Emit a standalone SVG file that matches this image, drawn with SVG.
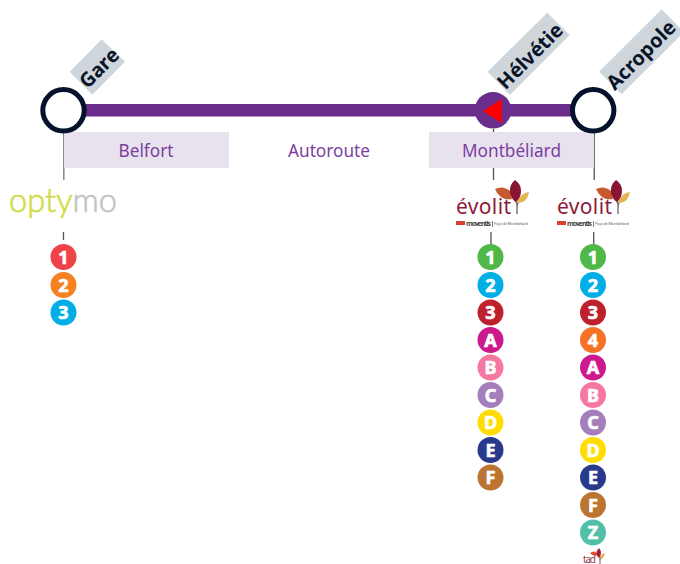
<svg xmlns="http://www.w3.org/2000/svg" width="680" height="564" viewBox="0 0 680 564">
<style>
.tag{fill:#cfd6db}
.st{font:bold 20px "Noto Sans","Open Sans",sans-serif;fill:#0a1428;text-anchor:middle}
.ring{fill:#fff;stroke:#04132b;stroke-width:5}
.band{fill:#e8e2ef}
.zone{font:17.2px "Noto Sans","Open Sans",sans-serif;fill:#7b3f9e;text-anchor:middle}
.tick{stroke:#555;stroke-width:1.3;fill:none}
.b{font:bold 18px "Noto Sans","Open Sans",sans-serif;fill:#fff;text-anchor:middle;stroke:#fff;stroke-width:.7}
.evo{font:21px "Noto Sans","Open Sans",sans-serif;fill:#8f1b3a}
.mov{font:bold 7px "Noto Sans",sans-serif;fill:#444}
.pays{font:4px "Noto Sans",sans-serif;fill:#666}
</style>
<defs>
<g id="evolity">
<text class="evo" x="0" y="34" textLength="55">évolit</text>
<path d="M61 34V24M72 15Q62 18 61 26M42 10Q55 8 61 24" fill="none" stroke="#666" stroke-width="1.300"/>
<path d="M39 9Q47 5 54 11L56 19Q44 21 39 9Z" fill="#c65a2e"/>
<path d="M59 0Q53 5 54 13Q56 20 60 22Q65 18 65 11Q65 4 59 0Z" fill="#8a1434"/>
<path d="M73 12Q64 13 61 23Q71 24 73 12Z" fill="#e3b653"/>
<rect x="0" y="41" width="9" height="4" fill="#d8412f"/>
<text class="mov" x="10" y="45.500" textLength="25">moventis</text>
<path d="M36.500 41V47" stroke="#444" stroke-width=".7"/>
<text class="pays" x="38" y="45" textLength="34">Pays de Montbéliard</text>
</g>
</defs>
<g id="connectors">
<path class="tick" style="stroke:#888;stroke-width:1.500" d="M63.800 133V180"/>
<path class="tick" d="M63.500 232V240M493.500 129V132M493.500 168V180M491 232V245M594.200 133V180M593.700 232V245"/>
</g>
<g id="zones">
<rect class="band" x="64" y="132" width="165" height="36"/>
<rect class="band" x="429" y="132" width="165" height="36"/>
<text class="zone" x="146" y="157">Belfort</text>
<text class="zone" x="329" y="157">Autoroute</text>
<text class="zone" x="511.500" y="157">Montbéliard</text>
</g>
<rect id="line" x="63" y="104" width="530" height="12.500" fill="#6b2d8b"/>
<g id="gare">
<path class="tag" d="M101.700 39.300L125 61.700L92.300 94.700L69.700 71.700Z"/>
<text class="st" transform="translate(104,73) rotate(-45)">Gare</text>
<circle class="ring" cx="63.500" cy="110.300" r="20.700"/>
</g>
<g id="helvetie">
<path class="tag" d="M547.300 12.700L569.700 35L510 95L487.700 71.700Z"/>
<text class="st" transform="translate(535,61) rotate(-45)">Hélvétie</text>
<circle cx="493" cy="110.300" r="18.300" fill="#6b2d8b"/>
<path d="M482.700 111L501.700 99V123Z" fill="#f00"/>
</g>
<g id="acropole">
<path class="tag" d="M661.700 9.300L684 32L621.700 94.300L599 71.700Z"/>
<text class="st" transform="translate(646,60) rotate(-45)">Acropole</text>
<circle class="ring" cx="593.200" cy="110.300" r="20.700"/>
</g>
<g id="optymo">
<text x="9" y="212" font-family="Lato,sans-serif" font-size="33" font-weight="300" textLength="108" lengthAdjust="spacingAndGlyphs"><tspan fill="#d3dc4a" stroke="#d3dc4a" stroke-width=".7">opty</tspan><tspan fill="#c4c4c4" stroke="#c4c4c4" stroke-width=".7">mo</tspan></text>
</g>
<use id="logo-helvetie" href="#evolity" x="456" y="180"/>
<use id="logo-acropole" href="#evolity" x="557" y="180"/>
<g id="lines-gare">
<circle cx="63.500" cy="257" r="13" fill="#ee4348"/><text class="b" x="63.500" y="263.500">1</text>
<circle cx="63.500" cy="285" r="13" fill="#f58220"/><text class="b" x="63.500" y="291.500">2</text>
<circle cx="63.500" cy="312.500" r="13" fill="#00aee6"/><text class="b" x="63.500" y="319">3</text>
</g>
<g id="lines-helvetie">
<circle cx="490.500" cy="257" r="13" fill="#4fb848"/><text class="b" x="490.500" y="263.500">1</text>
<circle cx="490.500" cy="285" r="13" fill="#00aee6"/><text class="b" x="490.500" y="291.500">2</text>
<circle cx="490.500" cy="312.500" r="13" fill="#be202e"/><text class="b" x="490.500" y="319">3</text>
<circle cx="490.500" cy="340" r="13" fill="#cc1a8e"/><text class="b" x="490.500" y="346.500">A</text>
<circle cx="490.500" cy="367.500" r="13" fill="#f678a0"/><text class="b" x="490.500" y="374">B</text>
<circle cx="490.500" cy="395" r="13" fill="#a57fbb"/><text class="b" x="490.500" y="401.500">C</text>
<circle cx="490.500" cy="422.500" r="13" fill="#ffdd00"/><text class="b" x="490.500" y="429">D</text>
<circle cx="490.500" cy="450" r="13" fill="#293a8d"/><text class="b" x="490.500" y="456.500">E</text>
<circle cx="490.500" cy="477.500" r="13" fill="#bc7530"/><text class="b" x="490.500" y="484">F</text>
</g>
<g id="lines-acropole">
<circle cx="593" cy="257" r="13" fill="#4fb848"/><text class="b" x="593" y="263.500">1</text>
<circle cx="593" cy="285" r="13" fill="#00aee6"/><text class="b" x="593" y="291.500">2</text>
<circle cx="593" cy="312.500" r="13" fill="#be202e"/><text class="b" x="593" y="319">3</text>
<circle cx="593" cy="340" r="13" fill="#f57226"/><text class="b" x="593" y="346.500">4</text>
<circle cx="593" cy="367.500" r="13" fill="#cc1a8e"/><text class="b" x="593" y="374">A</text>
<circle cx="593" cy="395" r="13" fill="#f678a0"/><text class="b" x="593" y="401.500">B</text>
<circle cx="593" cy="422.500" r="13" fill="#a57fbb"/><text class="b" x="593" y="429">C</text>
<circle cx="593" cy="450" r="13" fill="#ffdd00"/><text class="b" x="593" y="456.500">D</text>
<circle cx="593" cy="477.500" r="13" fill="#293a8d"/><text class="b" x="593" y="484">E</text>
<circle cx="593" cy="505" r="13" fill="#bc7530"/><text class="b" x="593" y="511.500">F</text>
<circle cx="593" cy="532.500" r="13" fill="#52bfa8"/><text class="b" x="593" y="539">Z</text>
</g>
<g id="tad">
<text x="583" y="562.500" font-family="Noto Sans,sans-serif" font-size="10" fill="#8f3a4a" textLength="13">tad</text>
<path d="M590 553Q595 549 598 555Q593 557 590 553Z" fill="#d8502e"/>
<path d="M599 548Q594 553 599 558Q603 553 599 548Z" fill="#a81c3c"/>
<path d="M605 553Q600 554 599 560Q604 559 605 553Z" fill="#e3b653"/>
<path d="M600 557V564" stroke="#666" stroke-width="1"/>
</g>
</svg>
